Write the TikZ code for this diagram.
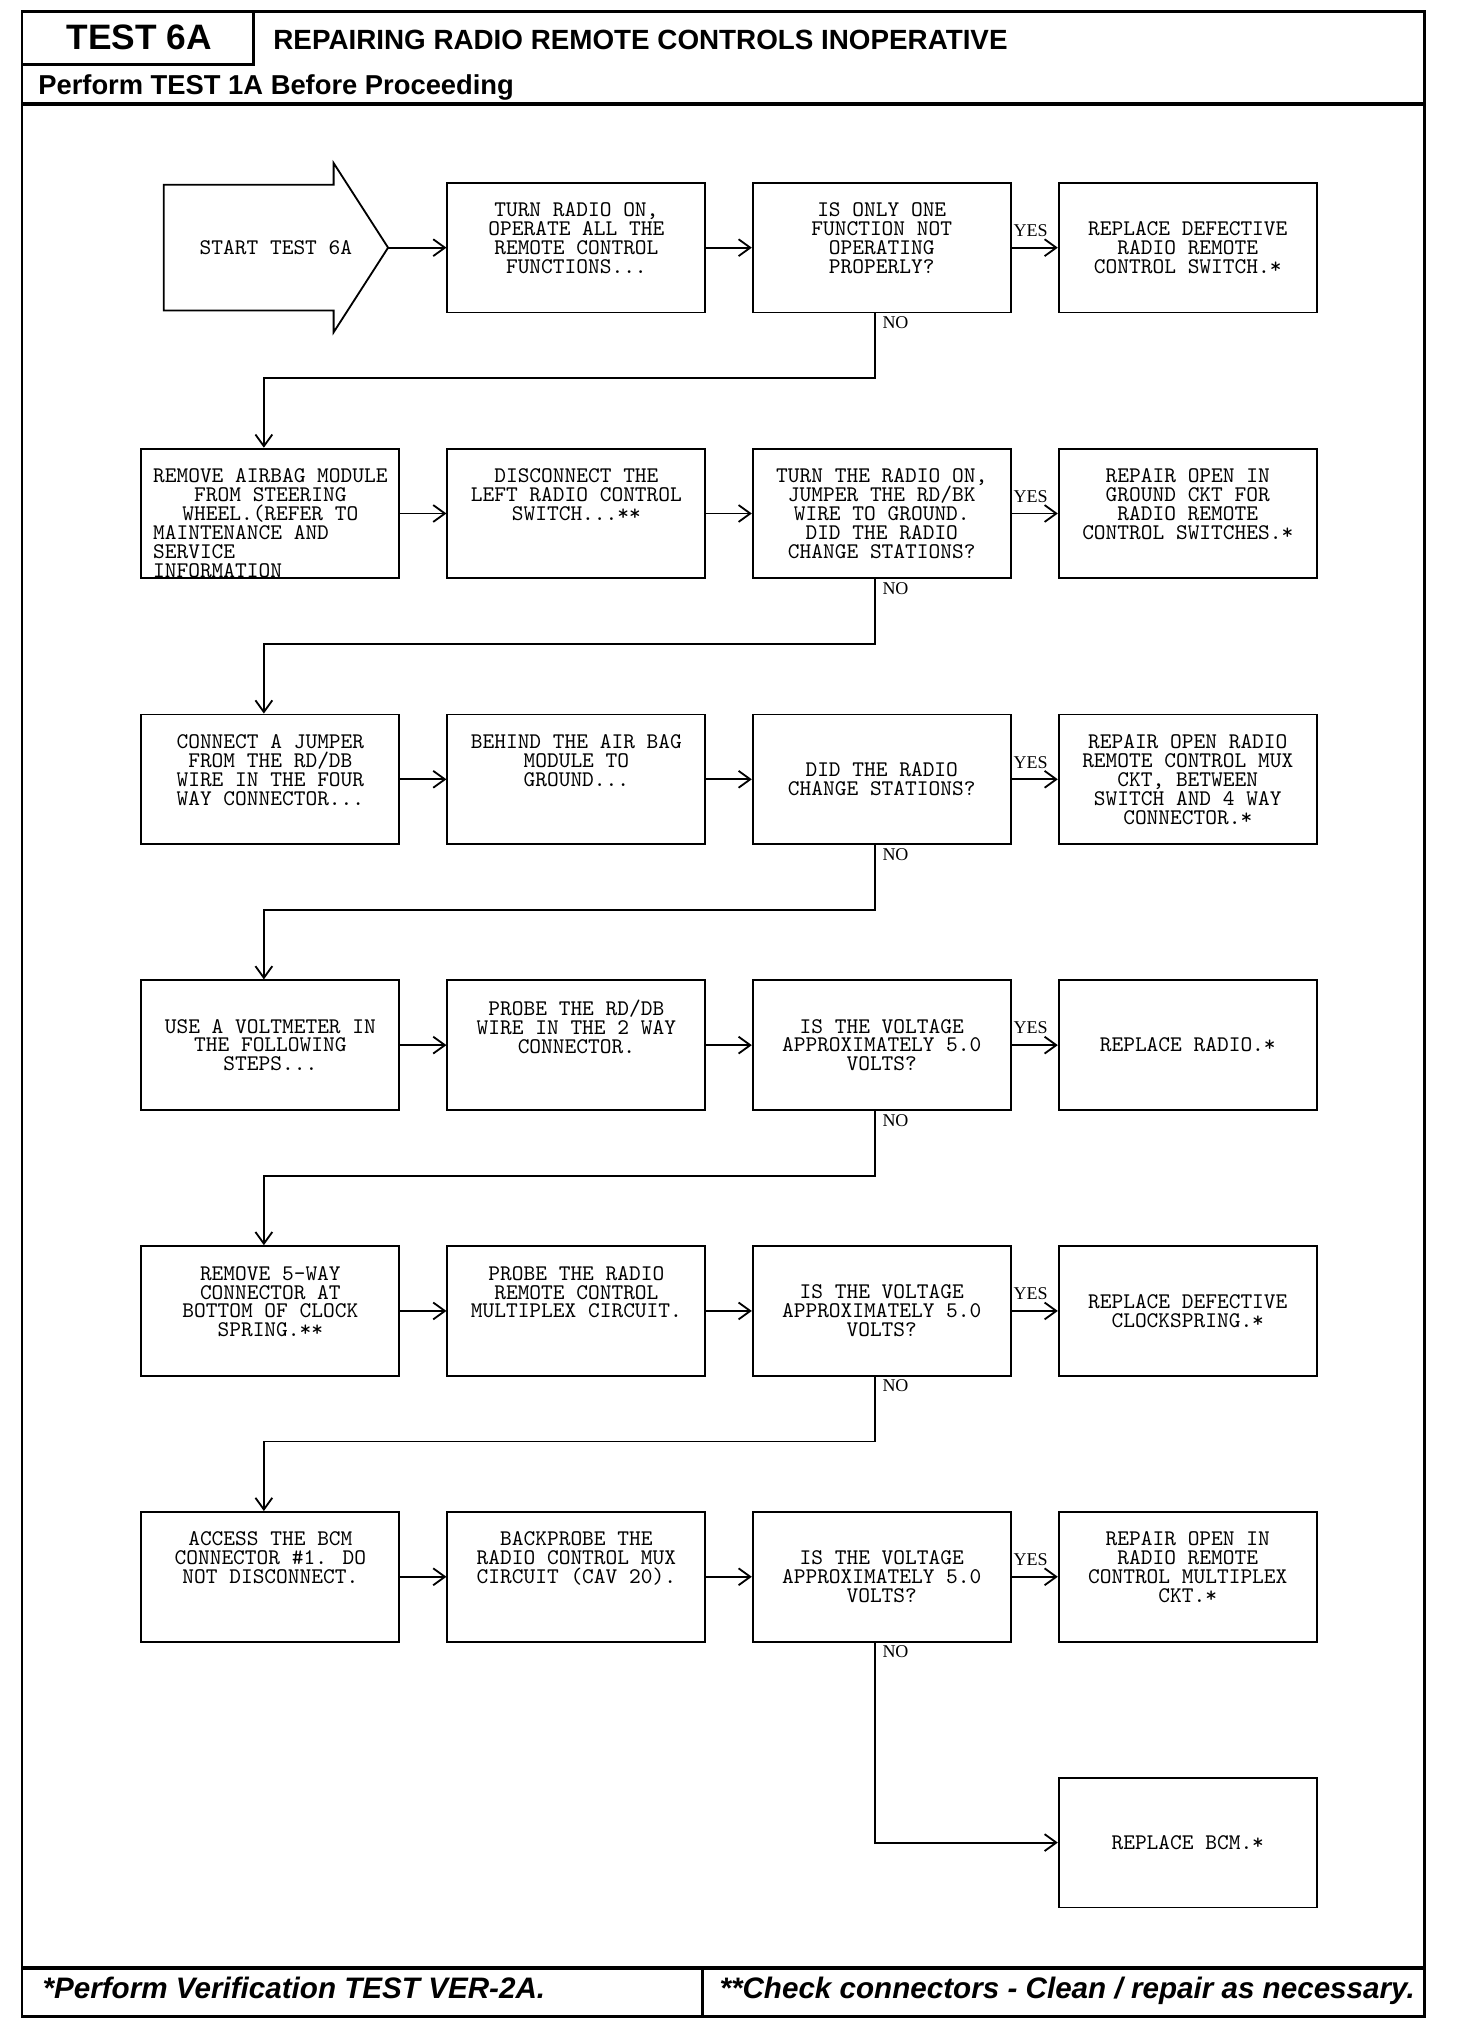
\documentclass[tikz,border=0pt]{standalone}
\usepackage{fontspec}
\setmainfont{Liberation Serif}
\setsansfont{Liberation Sans}
\usetikzlibrary{arrows.meta}
\tikzset{
  flowbox/.style={draw, line width=0.8pt, minimum width=3.98cm, minimum height=2.0cm, inner sep=0pt, align=center, font=\ttfamily\fontsize{9.8}{8.3}\selectfont},
  flowline/.style={line width=0.8pt, -{Straight Barb[length=1.8mm,width=2.6mm]}},
  yesno/.style={font=\rmfamily\fontsize{7.9}{9}\selectfont, inner sep=0.5pt},
  frameline/.style={line width=1.2pt},
  heavyline/.style={line width=1.8pt},
}
\newcommand{\toptext}[1]{\parbox[c][1.38cm][t]{3.9cm}{\centering #1}}
\newcommand{\padleft}[1]{\makebox[20\fontcharwd\font`\M][l]{#1}}

\begin{document}
\begin{tikzpicture}%
\useasboundingbox (0,0) rectangle (22.46,-31.28);%
% frame, header and footer
\draw[frameline] (0.34,-0.174) rectangle (21.97,-31.1);%
\draw[frameline] (3.91,-0.174) -- (3.91,-0.99) -- (0.34,-0.99);%
\draw[heavyline] (0.34,-1.6) -- (21.97,-1.6);%
\draw[heavyline] (0.34,-30.36) -- (21.97,-30.36);%
\draw[frameline] (10.83,-30.36) -- (10.83,-31.1);%
\node[anchor=base, inner sep=0pt, font=\sffamily\bfseries\fontsize{15.5}{16}\selectfont] (testno) at (2.15,-0.77) {TEST 6A};%
\node[anchor=base west, inner sep=0pt, font=\sffamily\bfseries\fontsize{12.2}{14}\selectfont] (title) at (4.21,-0.765) {REPAIRING RADIO REMOTE CONTROLS INOPERATIVE};%
\node[anchor=base west, inner sep=0pt, font=\sffamily\bfseries\fontsize{12}{14}\selectfont] (before) at (0.584,-1.46) {Perform TEST 1A Before Proceeding};%
\node[anchor=base west, inner sep=0pt, font=\sffamily\bfseries\itshape\fontsize{13}{15}\selectfont] (note1) at (0.65,-30.82) {*Perform Verification TEST VER-2A.};%
\node[anchor=base east, inner sep=0pt, font=\sffamily\bfseries\itshape\fontsize{13}{15}\selectfont] (note2) at (21.83,-30.82) {**Check connectors - Clean / repair as necessary.};%
% start arrow
\draw[line width=0.8pt] (2.526,-2.85) -- (5.146,-2.85) -- (5.146,-2.515) -- (5.986,-3.82) -- (5.146,-5.125) -- (5.146,-4.79) -- (2.526,-4.79) -- cycle;%
\node[font=\ttfamily\fontsize{9.8}{8.3}\selectfont] (start) at (4.256,-3.82) {START TEST 6A};%
\coordinate (starttip) at (5.986,-3.82);%
% row 1
\node[flowbox] (s1b) at (8.89,-3.82) {\toptext{TURN RADIO ON,\\OPERATE ALL THE\\REMOTE CONTROL\\FUNCTIONS...}};%
\node[flowbox] (q1) at (13.6,-3.82) {\toptext{IS ONLY ONE\\FUNCTION NOT\\OPERATING\\PROPERLY?}};%
\node[flowbox] (f1) at (18.32,-3.82) {REPLACE DEFECTIVE\\RADIO REMOTE\\CONTROL SWITCH.*};%
% row 2
\node[flowbox] (s2a) at (4.17,-7.92) {\toptext{REMOVE AIRBAG MODULE\\FROM STEERING\\WHEEL.(REFER TO\\\padleft{MAINTENANCE AND}\\\padleft{SERVICE}\\\padleft{INFORMATION}}};%
\node[flowbox] (s2b) at (8.89,-7.92) {\toptext{DISCONNECT THE\\LEFT RADIO CONTROL\\SWITCH...**}};%
\node[flowbox] (q2) at (13.6,-7.92) {\toptext{TURN THE RADIO ON,\\JUMPER THE RD/BK\\WIRE TO GROUND.\\DID THE RADIO\\CHANGE STATIONS?}};%
\node[flowbox] (f2) at (18.32,-7.92) {\toptext{REPAIR OPEN IN\\GROUND CKT FOR\\RADIO REMOTE\\CONTROL SWITCHES.*}};%
% row 3
\node[flowbox] (s3a) at (4.17,-12.02) {\toptext{CONNECT A JUMPER\\FROM THE RD/DB\\WIRE IN THE FOUR\\WAY CONNECTOR...}};%
\node[flowbox] (s3b) at (8.89,-12.02) {\toptext{BEHIND THE AIR BAG\\MODULE TO\\GROUND...}};%
\node[flowbox] (q3) at (13.6,-12.02) {DID THE RADIO\\CHANGE STATIONS?};%
\node[flowbox] (f3) at (18.32,-12.02) {\toptext{REPAIR OPEN RADIO\\REMOTE CONTROL MUX\\CKT, BETWEEN\\SWITCH AND 4 WAY\\CONNECTOR.*}};%
% row 4
\node[flowbox] (s4a) at (4.17,-16.12) {USE A VOLTMETER IN\\THE FOLLOWING\\STEPS...};%
\node[flowbox] (s4b) at (8.89,-16.12) {\toptext{PROBE THE RD/DB\\WIRE IN THE 2 WAY\\CONNECTOR.}};%
\node[flowbox] (q4) at (13.6,-16.12) {IS THE VOLTAGE\\APPROXIMATELY 5.0\\VOLTS?};%
\node[flowbox] (f4) at (18.32,-16.12) {REPLACE RADIO.*};%
% row 5
\node[flowbox] (s5a) at (4.17,-20.22) {\toptext{REMOVE 5-WAY\\CONNECTOR AT\\BOTTOM OF CLOCK\\SPRING.**}};%
\node[flowbox] (s5b) at (8.89,-20.22) {\toptext{PROBE THE RADIO\\REMOTE CONTROL\\MULTIPLEX CIRCUIT.}};%
\node[flowbox] (q5) at (13.6,-20.22) {IS THE VOLTAGE\\APPROXIMATELY 5.0\\VOLTS?};%
\node[flowbox] (f5) at (18.32,-20.22) {REPLACE DEFECTIVE\\CLOCKSPRING.*};%
% row 6
\node[flowbox] (s6a) at (4.17,-24.32) {\toptext{ACCESS THE BCM\\CONNECTOR \#1. DO\\NOT DISCONNECT.}};%
\node[flowbox] (s6b) at (8.89,-24.32) {\toptext{BACKPROBE THE\\RADIO CONTROL MUX\\CIRCUIT (CAV 20).}};%
\node[flowbox] (q6) at (13.6,-24.32) {IS THE VOLTAGE\\APPROXIMATELY 5.0\\VOLTS?};%
\node[flowbox] (f6) at (18.32,-24.32) {\toptext{REPAIR OPEN IN\\RADIO REMOTE\\CONTROL MULTIPLEX\\CKT.*}};%
% row 7
\node[flowbox] (f7) at (18.32,-28.42) {REPLACE BCM.*};%
% connectors
\draw[flowline] (starttip) -- (s1b);%
\draw[flowline] (s1b) -- (q1);%
\draw[flowline] (q1) -- node[yesno, pos=0, anchor=south west, yshift=0.14cm] (yes1) {YES} (f1);%
\draw[flowline] ([xshift=-0.1cm]q1.south) -- node[yesno, pos=0, anchor=north west, xshift=0.08cm, yshift=-0.02cm] (no1) {NO} ++(0,-1) -| ([xshift=-0.1cm]s2a.north);%
\draw[flowline] (s2a) -- (s2b);%
\draw[flowline] (s2b) -- (q2);%
\draw[flowline] (q2) -- node[yesno, pos=0, anchor=south west, yshift=0.14cm] (yes2) {YES} (f2);%
\draw[flowline] ([xshift=-0.1cm]q2.south) -- node[yesno, pos=0, anchor=north west, xshift=0.08cm, yshift=-0.02cm] (no2) {NO} ++(0,-1) -| ([xshift=-0.1cm]s3a.north);%
\draw[flowline] (s3a) -- (s3b);%
\draw[flowline] (s3b) -- (q3);%
\draw[flowline] (q3) -- node[yesno, pos=0, anchor=south west, yshift=0.14cm] (yes3) {YES} (f3);%
\draw[flowline] ([xshift=-0.1cm]q3.south) -- node[yesno, pos=0, anchor=north west, xshift=0.08cm, yshift=-0.02cm] (no3) {NO} ++(0,-1) -| ([xshift=-0.1cm]s4a.north);%
\draw[flowline] (s4a) -- (s4b);%
\draw[flowline] (s4b) -- (q4);%
\draw[flowline] (q4) -- node[yesno, pos=0, anchor=south west, yshift=0.14cm] (yes4) {YES} (f4);%
\draw[flowline] ([xshift=-0.1cm]q4.south) -- node[yesno, pos=0, anchor=north west, xshift=0.08cm, yshift=-0.02cm] (no4) {NO} ++(0,-1) -| ([xshift=-0.1cm]s5a.north);%
\draw[flowline] (s5a) -- (s5b);%
\draw[flowline] (s5b) -- (q5);%
\draw[flowline] (q5) -- node[yesno, pos=0, anchor=south west, yshift=0.14cm] (yes5) {YES} (f5);%
\draw[flowline] ([xshift=-0.1cm]q5.south) -- node[yesno, pos=0, anchor=north west, xshift=0.08cm, yshift=-0.02cm] (no5) {NO} ++(0,-1) -| ([xshift=-0.1cm]s6a.north);%
\draw[flowline] (s6a) -- (s6b);%
\draw[flowline] (s6b) -- (q6);%
\draw[flowline] (q6) -- node[yesno, pos=0, anchor=south west, yshift=0.14cm] (yes6) {YES} (f6);%
\draw[flowline] ([xshift=-0.1cm]q6.south) -- node[yesno, pos=0, anchor=north west, xshift=0.08cm, yshift=-0.02cm] (no6) {NO} ([xshift=-0.1cm]q6.south |- f7.west) -- (f7.west);%
\end{tikzpicture}
\end{document}
